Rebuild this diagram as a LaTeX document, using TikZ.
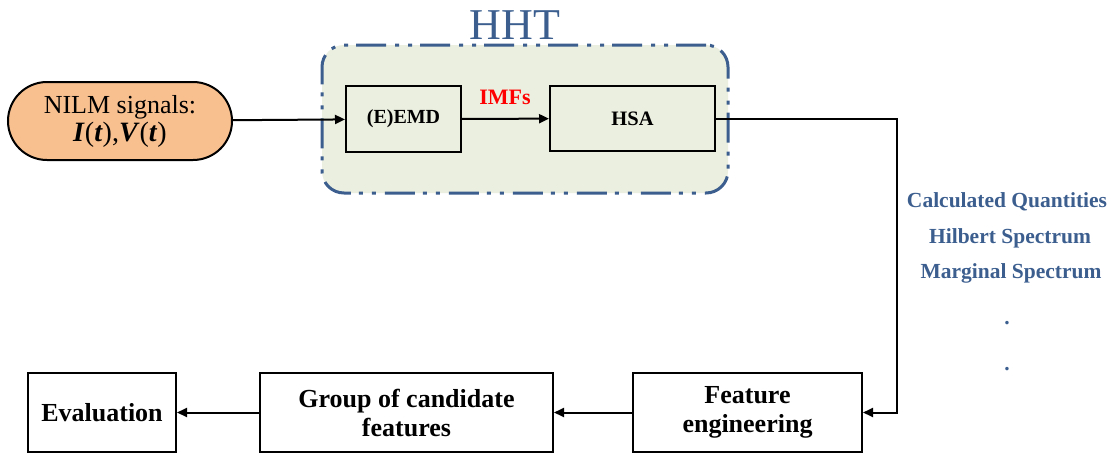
\documentclass[tikz,border=0pt]{standalone}
\usepackage{fontspec}
\setmainfont{Liberation Serif}
\usetikzlibrary{arrows.meta}
\definecolor{hhtblue}{HTML}{3B5E8F}
\definecolor{hhtfill}{HTML}{EBEFDF}
\definecolor{sigfill}{HTML}{F8BF8F}
\tikzset{box/.style = {draw,line width=2pt,fill=white,font=\fontsize{26}{29}\selectfont\bfseries,align=center,inner sep=2pt}}
\tikzset{qty/.style = {text=hhtblue,font=\fontsize{21.5}{24}\selectfont\bfseries}}
\tikzset{edge/.style = {line width=2pt,-{Triangle[length=10pt,width=9pt]}}}
\begin{document}
\begin{tikzpicture}[x=1pt,y=-1pt]
\useasboundingbox (0,0) rectangle (1113,455);
% container
\node[draw=hhtblue,fill=hhtfill,line width=3pt,rounded corners=22pt,
  dash pattern=on 30pt off 8pt on 4pt off 9pt on 4pt off 9pt,
  minimum width=406pt,minimum height=148pt] (hht) at (525,119) {};
\node[text=hhtblue,font=\fontsize{44}{46}\selectfont] (hhtlabel) at (515,25) {HHT};
% vertices
\node[draw,line width=2pt,fill=sigfill,rounded corners=39pt,minimum width=224pt,minimum height=78pt,
  align=center,font=\fontsize{26}{28}\selectfont] (sig) at (120,121)
  {NILM signals:\\\fontsize{28}{28}\selectfont\textbf{\textit{I}}(\textbf{\textit{t}}),\textbf{\textit{V}}(\textbf{\textit{t}})};
\node[box,fill=hhtfill,minimum width=115pt,minimum height=66pt,font=\fontsize{20}{22}\selectfont\bfseries] (emd) at (403.5,119) {(E)EMD};
\node[box,fill=hhtfill,minimum width=165pt,minimum height=65pt,font=\fontsize{20.5}{22}\selectfont\bfseries] (hsa) at (632.5,118.5) {HSA};
\node[text=red,font=\fontsize{22}{24}\selectfont\bfseries] (imfs) at (505,97) {IMFs};
\node[box,minimum width=229pt,minimum height=79pt] (fe) at (747.5,412.5) {Feature\\engineering};
\node[box,minimum width=293pt,minimum height=79pt] (grp) at (406.5,412.5) {Group of candidate\\features};
\node[box,minimum width=148pt,minimum height=79pt] (ev) at (102,412.5) {Evaluation};
\node[qty] (q1) at (1007,202) {Calculated Quantities};
\node[qty] (q2) at (1010,238) {Hilbert Spectrum};
\node[qty] (q3) at (1011,273) {Marginal Spectrum};
\node[qty] (d1) at (1007,323) {.};
\node[qty] (d2) at (1007,369) {.};
\coordinate (turn) at (897,300);
%edges
\draw[edge] (sig) -- (emd);
\draw[edge] (emd) -- (hsa);
\draw[edge] (hsa.east) -- (hsa.east -| turn) |- (fe.east);
\draw[edge] (fe) -- (grp);
\draw[edge] (grp) -- (ev);
\end{tikzpicture}
\end{document}
